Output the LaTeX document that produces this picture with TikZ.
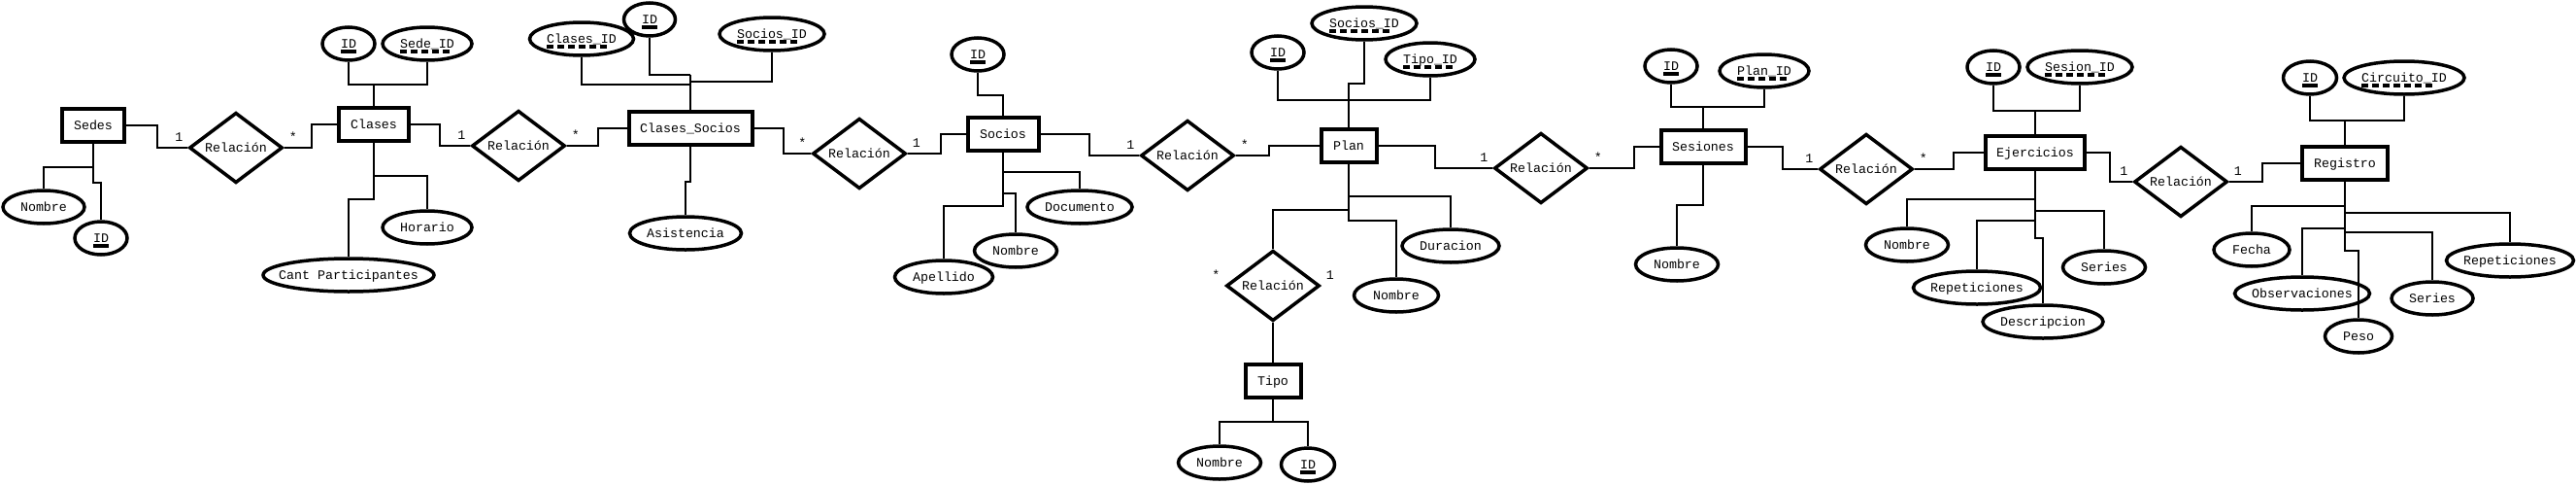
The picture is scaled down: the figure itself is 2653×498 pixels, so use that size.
\documentclass[tikz,border=0pt]{standalone}
\usepackage{fontspec}
\newfontfamily\ermono{Liberation Mono}
\usepackage{tikz}
\usetikzlibrary{shapes.geometric}

% clave primaria y clave foranea
\newcommand{\pk}[1]{\setbox0=\hbox{#1}\rlap{\copy0}\smash{\raisebox{-5.5pt}{\rule{\wd0}{3.5pt}}}}
\newcommand{\fk}[1]{\setbox0=\hbox{#1}\rlap{\copy0}\smash{\raisebox{-5.5pt}{\hbox to \wd0{\leaders\hbox to 11pt{\rule{7pt}{3.5pt}\hfil}\hfill}}}}

\begin{document}
\begin{tikzpicture}[x=1pt, y=-1pt,
    every node/.style={font={\ermono\fontsize{13.3}{15}\selectfont}, text height=8.6pt, text depth=0pt},
    entidad/.style={draw, line width=4pt, minimum height=34, inner sep=0},
    atributo/.style={ellipse, draw, line width=3.5pt, minimum height=34, inner sep=0,
        execute at begin node={\hbox to 0pt\bgroup\hss}, execute at end node={\hss\egroup}},
    relacion/.style={diamond, draw, line width=3.5pt, minimum width=96, minimum height=58, inner sep=0},
    conn/.style={line width=2pt},
    card/.style={inner sep=0}]
    \useasboundingbox[fill=white] (0,0) rectangle (2653,498);

    % 1. Entidades
    \node[entidad, minimum width=64]  (sedes)        at (96,129)   {Sedes};
    \node[entidad, minimum width=72]  (clases)       at (385,128)  {Clases};
    \node[entidad, minimum width=127] (clasesSocios) at (711,132)  {Clases\_Socios};
    \node[entidad, minimum width=73]  (socios)       at (1033,138) {Socios};
    \node[entidad, minimum width=57]  (plan)         at (1389,150) {Plan};
    \node[entidad, minimum width=57]  (tipo)         at (1311,392) {Tipo};
    \node[entidad, minimum width=87]  (sesiones)     at (1754,151) {Sesiones};
    \node[entidad, minimum width=102] (ejercicios)   at (2096,157) {Ejercicios};
    \node[entidad, minimum width=88]  (registro)     at (2415,168) {Registro};

    % 2. Relaciones
    \node[relacion] (r1) at (243,152)  {Relación};
    \node[relacion] (r2) at (534,150)  {Relación};
    \node[relacion] (r3) at (885,158)  {Relación};
    \node[relacion] (r4) at (1223,160) {Relación};
    \node[relacion] (r5) at (1311,294) {Relación};
    \node[relacion] (r6) at (1587,173) {Relación};
    \node[relacion] (r7) at (1922,174) {Relación};
    \node[relacion] (r8) at (2246,187) {Relación};

    % 3. Atributos
    \node[atributo, minimum width=84]  (sedesNombre)      at (45,213)   {Nombre};
    \node[atributo, minimum width=54]  (sedesId)          at (104,245)  {\pk{ID}};
    \node[atributo, minimum width=54]  (clasesId)         at (359,45)   {\pk{ID}};
    \node[atributo, minimum width=92]  (clasesSedeId)     at (440,45)   {\fk{Sede\_ID}};
    \node[atributo, minimum width=92]  (clasesHorario)    at (440,234)  {Horario};
    \node[atributo, minimum width=176] (clasesCant)       at (359,283)  {Cant Participantes};
    \node[atributo, minimum width=107] (csClasesId)       at (599,40)   {\fk{Clases\_ID}};
    \node[atributo, minimum width=53]  (csId)             at (669,20)   {\pk{ID}};
    \node[atributo, minimum width=108] (csSociosId)       at (795,35)   {\fk{Socios\_ID}};
    \node[atributo, minimum width=115] (csAsistencia)     at (706,240)  {Asistencia};
    \node[atributo, minimum width=54]  (sociosId)         at (1007,56)  {\pk{ID}};
    \node[atributo, minimum width=108] (sociosDocumento)  at (1112,213) {Documento};
    \node[atributo, minimum width=85]  (sociosNombre)     at (1046,258) {Nombre};
    \node[atributo, minimum width=101] (sociosApellido)   at (972,285)  {Apellido};
    \node[atributo, minimum width=54]  (planId)           at (1316,54)  {\pk{ID}};
    \node[atributo, minimum width=108] (planSociosId)     at (1405,24)  {\fk{Socios\_ID}};
    \node[atributo, minimum width=92]  (planTipoId)       at (1473,61)  {\fk{Tipo\_ID}};
    \node[atributo, minimum width=100] (planDuracion)     at (1494,253) {Duracion};
    \node[atributo, minimum width=87]  (planNombre)       at (1438,304) {Nombre};
    \node[atributo, minimum width=85]  (tipoNombre)       at (1256,476) {Nombre};
    \node[atributo, minimum width=55]  (tipoId)           at (1347,478) {\pk{ID}};
    \node[atributo, minimum width=54]  (sesId)            at (1721,68)  {\pk{ID}};
    \node[atributo, minimum width=92]  (sesPlanId)        at (1817,73)  {\fk{Plan\_ID}};
    \node[atributo, minimum width=85]  (sesNombre)        at (1727,272) {Nombre};
    \node[atributo, minimum width=54]  (ejId)             at (2053,69)  {\pk{ID}};
    \node[atributo, minimum width=108] (ejSesionId)       at (2142,69)  {\fk{Sesion\_ID}};
    \node[atributo, minimum width=85]  (ejNombre)         at (1964,252) {Nombre};
    \node[atributo, minimum width=85]  (ejSeries)         at (2167,275) {Series};
    \node[atributo, minimum width=131] (ejRepeticiones)   at (2036,296) {Repeticiones};
    \node[atributo, minimum width=124] (ejDescripcion)    at (2104,331) {Descripcion};
    \node[atributo, minimum width=55]  (regId)            at (2379,80)  {\pk{ID}};
    \node[atributo, minimum width=124] (regCircuitoId)    at (2476,80)  {\fk{Circuito\_ID}};
    \node[atributo, minimum width=78]  (regFecha)         at (2319,257) {Fecha};
    \node[atributo, minimum width=139] (regObservaciones) at (2371,302) {Observaciones};
    \node[atributo, minimum width=84]  (regSeries)        at (2505,307) {Series};
    \node[atributo, minimum width=131] (regRepeticiones)  at (2585,268) {Repeticiones};
    \node[atributo, minimum width=69]  (regPeso)          at (2429,346) {Peso};

    % 4. Lineas entre entidades y relaciones
    \draw[conn] (sedes.east) -- ++(32,0) |- (r1.west);
    \draw[conn] (r1.east) -- ++(28,0) |- (clases.west);
    \draw[conn] (clases.east) -- ++(30,0) |- (r2.west);
    \draw[conn] (r2.east) -- ++(32,0) |- (clasesSocios.west);
    \draw[conn] (clasesSocios.east) -- ++(30,0) |- (r3.west);
    \draw[conn] (r3.east) -- ++(34,0) |- (socios.west);
    \draw[conn] (socios.east) -- ++(50,0) |- (r4.west);
    \draw[conn] (r4.east) -- ++(34,0) |- (plan.west);
    \draw[conn] (plan.south) |- (r5.north |- 0,216) -- (r5.north);
    \draw[conn] (r5.south) -- (tipo.north);
    \draw[conn] (plan.east) -- ++(58,0) |- (r6.west);
    \draw[conn] (r6.east) -- ++(46,0) |- (sesiones.west);
    \draw[conn] (sesiones.east) -- ++(36,0) |- (r7.west);
    \draw[conn] (r7.east) -- ++(40,0) |- (ejercicios.west);
    \draw[conn] (ejercicios.east) -- ++(24,0) |- (r8.west);
    \draw[conn] (r8.east) -- ++(34,0) |- (registro.west);

    % 5. Lineas de atributos
    \draw[conn] (sedes.south) |- (sedesNombre.north |- 0,172) -- (sedesNombre.north);
    \draw[conn] (sedes.south) |- (sedesId.north |- 0,188) -- (sedesId.north);
    \draw[conn] (clasesId.south) |- (clasesSedeId.south |- 0,87) -- (clasesSedeId.south);
    \draw[conn] (clases.north) -- (clases.north |- 0,87);
    \draw[conn] (clases.south) |- (clasesHorario.north |- 0,181) -- (clasesHorario.north);
    \draw[conn] (clases.south) |- (clasesCant.north |- 0,205) -- (clasesCant.north);
    \draw[conn] (csClasesId.south) |- (clasesSocios.north |- 0,87);
    \draw[conn] (csId.south) |- (clasesSocios.north |- 0,77);
    \draw[conn] (csSociosId.south) |- (clasesSocios.north |- 0,84);
    \draw[conn] (clasesSocios.north) -- (clasesSocios.north |- 0,77);
    \draw[conn] (clasesSocios.south) |- (csAsistencia.north |- 0,187) -- (csAsistencia.north);
    \draw[conn] (sociosId.south) |- (socios.north |- 0,98) -- (socios.north);
    \draw[conn] (socios.south) |- (sociosDocumento.north |- 0,177) -- (sociosDocumento.north);
    \draw[conn] (socios.south) |- (sociosNombre.north |- 0,199) -- (sociosNombre.north);
    \draw[conn] (socios.south) |- (sociosApellido.north |- 0,212) -- (sociosApellido.north);
    \draw[conn] (planId.south) |- (planTipoId.south |- 0,103) -- (planTipoId.south);
    \draw[conn] (planSociosId.south) |- (plan.north |- 0,86) -- (plan.north);
    \draw[conn] (plan.south) |- (planDuracion.north |- 0,202) -- (planDuracion.north);
    \draw[conn] (plan.south) |- (planNombre.north |- 0,227) -- (planNombre.north);
    \draw[conn] (tipo.south) |- (tipoNombre.north |- 0,434) -- (tipoNombre.north);
    \draw[conn] (tipo.south) |- (tipoId.north |- 0,434) -- (tipoId.north);
    \draw[conn] (sesId.south) |- (sesPlanId.south |- 0,110) -- (sesPlanId.south);
    \draw[conn] (sesiones.north) -- (sesiones.north |- 0,110);
    \draw[conn] (sesiones.south) |- (sesNombre.north |- 0,211) -- (sesNombre.north);
    \draw[conn] (ejId.south) |- (ejSesionId.south |- 0,114) -- (ejSesionId.south);
    \draw[conn] (ejercicios.north) -- (ejercicios.north |- 0,114);
    \draw[conn] (ejercicios.south) |- (ejNombre.north |- 0,205) -- (ejNombre.north);
    \draw[conn] (ejercicios.south) |- (ejSeries.north |- 0,217) -- (ejSeries.north);
    \draw[conn] (ejercicios.south) |- (ejRepeticiones.north |- 0,227) -- (ejRepeticiones.north);
    \draw[conn] (ejercicios.south) |- (ejDescripcion.north |- 0,245) -- (ejDescripcion.north);
    \draw[conn] (regId.south) |- (regCircuitoId.south |- 0,124) -- (regCircuitoId.south);
    \draw[conn] (registro.north) -- (registro.north |- 0,124);
    \draw[conn] (registro.south) |- (regFecha.north |- 0,212) -- (regFecha.north);
    \draw[conn] (registro.south) |- (regRepeticiones.north |- 0,219) -- (regRepeticiones.north);
    \draw[conn] (registro.south) |- (regObservaciones.north |- 0,235) -- (regObservaciones.north);
    \draw[conn] (registro.south) |- (regSeries.north |- 0,239) -- (regSeries.north);
    \draw[conn] (registro.south) |- (regPeso.north |- 0,258) -- (regPeso.north);

    % 6. Cardinalidades
    \node[card] (r1a) at ([shift={(-9,-11)}]r1.west) {1};
    \node[card] (r1b) at ([shift={(9,-11)}]r1.east)  {*};
    \node[card] (r2a) at ([shift={(-9,-11)}]r2.west) {1};
    \node[card] (r2b) at ([shift={(9,-11)}]r2.east)  {*};
    \node[card] (r3a) at ([shift={(-9,-11)}]r3.west) {*};
    \node[card] (r3b) at ([shift={(9,-11)}]r3.east)  {1};
    \node[card] (r4a) at ([shift={(-9,-11)}]r4.west) {1};
    \node[card] (r4b) at ([shift={(9,-11)}]r4.east)  {*};
    \node[card] (r5a) at ([shift={(-9,-11)}]r5.west) {*};
    \node[card] (r5b) at ([shift={(9,-11)}]r5.east)  {1};
    \node[card] (r6a) at ([shift={(-9,-11)}]r6.west) {1};
    \node[card] (r6b) at ([shift={(9,-11)}]r6.east)  {*};
    \node[card] (r7a) at ([shift={(-9,-11)}]r7.west) {1};
    \node[card] (r7b) at ([shift={(9,-11)}]r7.east)  {*};
    \node[card] (r8a) at ([shift={(-9,-11)}]r8.west) {1};
    \node[card] (r8b) at ([shift={(9,-11)}]r8.east)  {1};
\end{tikzpicture}
\end{document}
